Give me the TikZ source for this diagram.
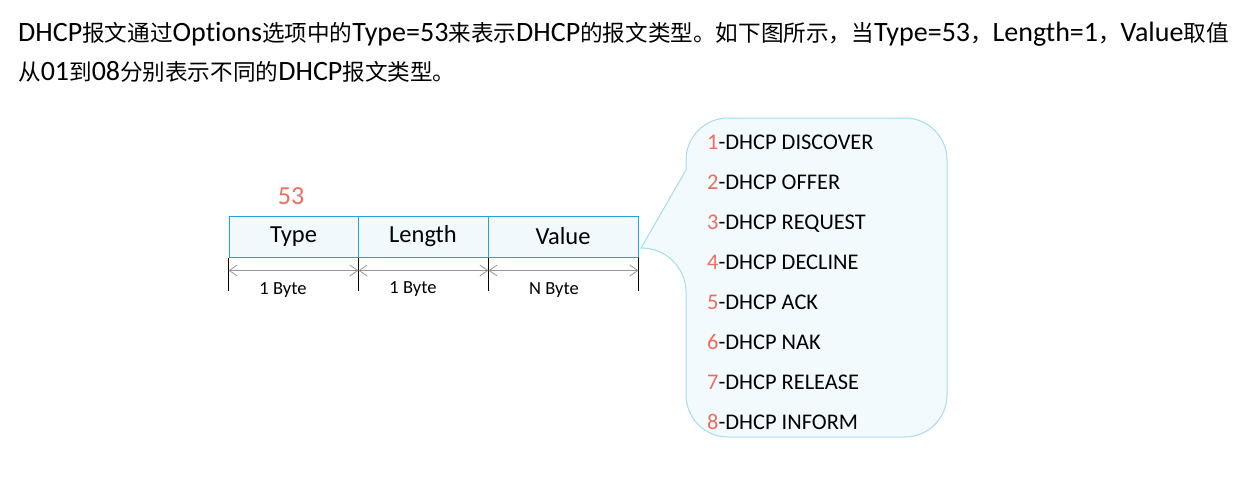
\documentclass[tikz,border=0pt]{standalone}
\usepackage{fontspec}
\setmainfont{Carlito}[Ligatures=NoCommon]
\newfontfamily\cjk{Noto Sans CJK SC}
\usetikzlibrary{arrows.meta,calc}
\definecolor{numred}{RGB}{238,108,94}
\definecolor{boxline}{RGB}{30,166,226}
\definecolor{boxfill}{RGB}{242,249,253}
\definecolor{callline}{RGB}{164,219,240}
\definecolor{callfill}{RGB}{243,250,254}
\definecolor{dimgray}{RGB}{150,150,150}
\newcommand{\zh}[1]{{\cjk\fontsize{22.6}{28}\selectfont #1}}
\begin{document}
\begin{tikzpicture}[x=1pt,y=-1pt,
  header/.style={anchor=base west,inner sep=0pt,font=\fontsize{28}{32}\selectfont},
  field/.style={draw=boxline,fill=boxfill,line width=1pt,minimum height=41pt,inner sep=0pt,font=\fontsize{24.5}{28}\selectfont},
  bytelbl/.style={inner sep=0pt,font=\fontsize{18.5}{22}\selectfont},
  tickline/.style={black,line width=0.8pt},
  dimline/.style={dimgray,line width=0.8pt,{Straight Barb[length=8pt,width=11pt]}-{Straight Barb[length=8pt,width=11pt]}},
  callout/.style={draw=callline,fill=callfill,line width=1pt},
  item/.style={anchor=base west,inner sep=0pt,font=\fontsize{22.4}{26}\selectfont}]
\useasboundingbox (0,0) rectangle (1247,477);

\node[header] (h1) at (18,41) {DHCP\zh{报文通过}Options\zh{选项中的}Type=53\zh{来表示}DHCP\zh{的报文类型。如下图所示，当}Type=53\zh{，}Length=1\zh{，}Value\zh{取值}};
\node[header] (h2) at (18,80) {\zh{从}01\zh{到}08\zh{分别表示不同的}DHCP\zh{报文类型。}};

\node[field,minimum width=129pt] (type) at (293.5,236.5) {Type};
\node[field,minimum width=130pt] (length) at (423,236.5) {Length};
\node[field,minimum width=150pt] (value) at (563,236.5) {Value};

\node[text=numred,inner sep=0pt,font=\fontsize{26}{30}\selectfont] (n53) at (291,196) {53};

\coordinate (a0) at ($(type.south west)+(0,13)$);
\coordinate (a1) at ($(type.south east)+(0,13)$);
\coordinate (a2) at ($(length.south east)+(0,13)$);
\coordinate (a3) at ($(value.south east)+(0,13)$);
\foreach \c/\n in {type.south west/b0,type.south east/b1,length.south east/b2,value.south east/b3}
  \coordinate (\n) at ($(\c)+(0,33)$);
\draw[tickline] (type.south west) -- (b0);
\draw[tickline] (type.south east) -- (b1);
\draw[tickline] (length.south east) -- (b2);
\draw[tickline] (value.south east) -- (b3);
\draw[dimline] (a0) -- (a1);
\draw[dimline] (a1) -- (a2);
\draw[dimline] (a2) -- (a3);
\node[bytelbl] (l1) at (283,290) {1 Byte};
\node[bytelbl] (l2) at (413,289) {1 Byte};
\node[bytelbl] (l3) at (554,290) {N Byte};

\path[callout] (686,170) [rounded corners=42pt] -- (686,118) -- (947,118) -- (947,437) -- (686,437) -- (686,250) [sharp corners] -- (641,248) -- cycle;

\foreach \i/\t in {1/DISCOVER,2/OFFER,3/REQUEST,4/DECLINE,5/ACK,6/NAK,7/RELEASE,8/INFORM}
  \node[item] (i\i) at (707,{109+40*\i}) {\textcolor{numred}{\i}-DHCP \t};
\end{tikzpicture}
\end{document}
